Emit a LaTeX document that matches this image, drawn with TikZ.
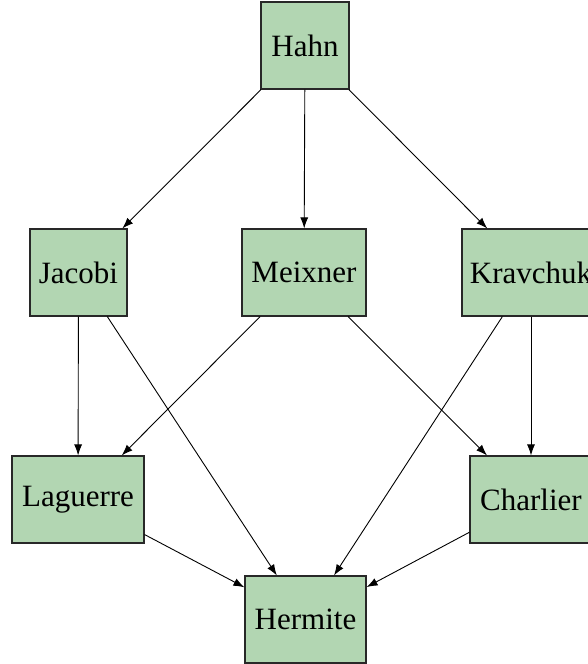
\documentclass[tikz,border=0pt]{standalone}
\usepackage{fontspec}
\setmainfont{Liberation Serif}
\usetikzlibrary{arrows.meta}
\definecolor{boxfill}{RGB}{178,214,178}
\definecolor{boxline}{RGB}{40,40,40}
\begin{document}
\begin{tikzpicture}[x=1pt,y=-1pt,
  famnode/.style={draw=boxline,fill=boxfill,line width=1.1pt,inner sep=0pt,
    minimum height=87pt,font=\fontsize{31}{36}\selectfont},
  conn/.style={line width=0.9pt,-{Latex[length=11pt,width=8pt]}}]
\useasboundingbox (0,0) rectangle (587,664);
\node[famnode,minimum width=88pt]  (hahn)     at (305,45.5)  {Hahn};
\node[famnode,minimum width=97pt]  (jacobi)   at (78.5,272.5) {Jacobi};
\node[famnode,minimum width=124pt] (meixner)  at (304,272.5) {Meixner};
\node[famnode,minimum width=138pt] (kravchuk) at (531,272.5) {Kravchuk};
\node[famnode,minimum width=132pt] (laguerre) at (78,499.5)  {Laguerre};
\node[famnode,minimum width=122pt] (charlier) at (531,499.5) {Charlier};
\node[famnode,minimum width=121pt] (hermite)  at (305.5,619.5) {Hermite};
\draw[conn] (hahn) -- (jacobi);
\draw[conn] (hahn) -- (meixner);
\draw[conn] (hahn) -- (kravchuk);
\draw[conn] (jacobi) -- (laguerre);
\draw[conn] (jacobi) -- (hermite);
\draw[conn] (meixner) -- (laguerre);
\draw[conn] (meixner) -- (charlier);
\draw[conn] (kravchuk) -- (hermite);
\draw[conn] (kravchuk) -- (charlier);
\draw[conn] (laguerre) -- (hermite);
\draw[conn] (charlier) -- (hermite);
\end{tikzpicture}
\end{document}
